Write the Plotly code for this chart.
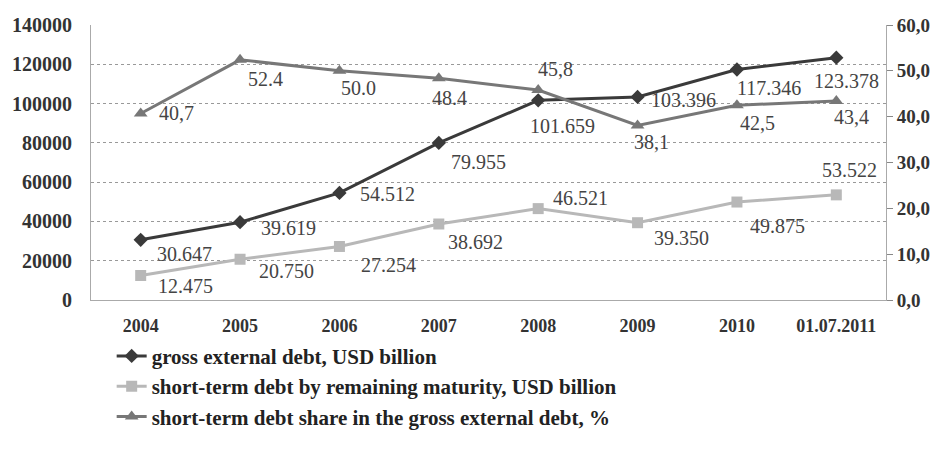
import plotly.graph_objects as go

categories = ["2004", "2005", "2006", "2007", "2008", "2009", "2010", "01.07.2011"]
gross_debt = [30647, 39619, 54512, 79955, 101659, 103396, 117346, 123378]
short_debt = [12475, 20750, 27254, 38692, 46521, 39350, 49875, 53522]
share_pct = [40.7, 52.4, 50.0, 48.4, 45.8, 38.1, 42.5, 43.4]

gross_labels = ["30.647", "39.619", "54.512", "79.955", "101.659", "103.396", "117.346", "123.378"]
short_labels = ["12.475", "20.750", "27.254", "38.692", "46.521", "39.350", "49.875", "53.522"]
share_labels = ["40,7", "52.4", "50.0", "48.4", "45,8", "38,1", "42,5", "43,4"]

left_ticks = [0, 20000, 40000, 60000, 80000, 100000, 120000, 140000]
left_tick_text = ["0", "20000", "40000", "60000", "80000", "100000", "120000", "140000"]
right_ticks = [0, 10, 20, 30, 40, 50, 60]
right_tick_text = ["0,0", "10,0", "20,0", "30,0", "40,0", "50,0", "60,0"]

c_gross = "#3a3a3a"
c_short = "#b8b8b8"
c_share = "#777777"
serif = "Liberation Serif"

fig = go.Figure()
fig.add_trace(go.Scatter(
    x=categories, y=gross_debt, name="gross external debt, USD billion",
    mode="lines+markers", line=dict(color=c_gross, width=3),
    marker=dict(symbol="diamond", size=11, color=c_gross)))
fig.add_trace(go.Scatter(
    x=categories, y=short_debt, name="short-term debt by remaining maturity, USD billion",
    mode="lines+markers", line=dict(color=c_short, width=3),
    marker=dict(symbol="square", size=11, color=c_short)))
fig.add_trace(go.Scatter(
    x=categories, y=share_pct, name="short-term debt share in the gross external debt, %",
    mode="lines+markers", line=dict(color=c_share, width=3), yaxis="y2",
    marker=dict(symbol="triangle-up", size=12, color=c_share)))

# label offsets (styling only)
gross_shift = [(44, -14), (48, -6), (48, -1), (40, -19), (24, -26), (46, -3), (32, -18), (10, -23)]
short_shift = [(45, -10), (46, -12), (49, -19), (37, -18), (42, 11), (44, -15), (41, -24), (13, 25)]
share_shift = [(36, 0), (25, -19), (19, -17), (11, -20), (17, 21), (14, -17), (21, -18), (15, -16)]

lab_font = dict(family=serif, size=20, color="#444444")
for i, (v, t, (dx, dy)) in enumerate(zip(gross_debt, gross_labels, gross_shift)):
    fig.add_annotation(x=i, y=v, text=t, showarrow=False, xshift=dx, yshift=dy, font=lab_font)
for i, (v, t, (dx, dy)) in enumerate(zip(short_debt, short_labels, short_shift)):
    fig.add_annotation(x=i, y=v, text=t, showarrow=False, xshift=dx, yshift=dy, font=lab_font)
for i, (v, t, (dx, dy)) in enumerate(zip(share_pct, share_labels, share_shift)):
    fig.add_annotation(x=i, y=v, yref="y2", text=t, showarrow=False, xshift=dx, yshift=dy, font=lab_font)

fig.update_layout(
    width=942, height=449,
    margin=dict(l=91, r=56, t=25, b=147),
    paper_bgcolor="white", plot_bgcolor="white",
    showlegend=True,
    legend=dict(x=0.026, y=-0.13, xanchor="left", yanchor="top",
                font=dict(family=serif, size=21, color="#222222", weight="bold"),
                bgcolor="rgba(0,0,0,0)", itemwidth=30, tracegroupgap=0),
    xaxis=dict(type="category", range=[-0.5, 7.5], showgrid=False,
               tickfont=dict(family=serif, size=18, color="#333333", weight="bold"),
               ticks="outside", ticklen=9, tickcolor="rgba(0,0,0,0)",
               showline=True, linecolor="#aaaaaa", mirror=False, zeroline=False),
    yaxis=dict(range=[0, 140000], tickvals=left_ticks, ticktext=left_tick_text, showgrid=True,
               gridcolor="#999999", griddash="dot", gridwidth=1,
               tickfont=dict(family=serif, size=20, color="#333333", weight="bold"),
               ticks="outside", ticklen=14, tickcolor="rgba(0,0,0,0)",
               showline=True, linecolor="#aaaaaa", zeroline=False),
    yaxis2=dict(range=[0, 60], tickvals=right_ticks, ticktext=right_tick_text,
                overlaying="y", side="right", showgrid=False,
                tickfont=dict(family=serif, size=19, color="#333333", weight="bold"),
                ticks="outside", ticklen=6, tickcolor="#888888",
                showline=True, linecolor="#aaaaaa", zeroline=False),
)

fig.write_html("out.html")
